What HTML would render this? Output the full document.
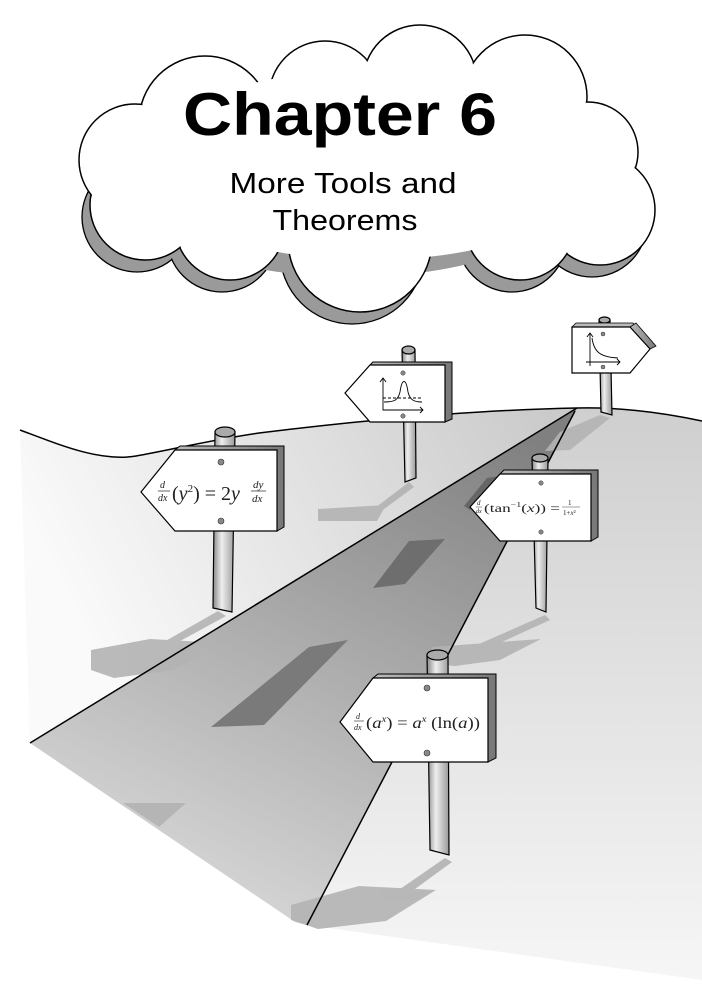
<!DOCTYPE html>
<html><head><meta charset="utf-8"><style>
html,body{margin:0;padding:0;background:#fff;}
svg{display:block;}
.m{font-family:"Liberation Serif",serif;fill:#222;}
</style></head><body>
<svg width="702" height="990" viewBox="0 0 702 990" xmlns="http://www.w3.org/2000/svg">
<defs>
<linearGradient id="gR" x1="0" y1="0" x2="0" y2="1"><stop offset="0" stop-color="#cfcfcf"/><stop offset="1" stop-color="#f6f6f6"/></linearGradient>
<linearGradient id="gL" x1="1" y1="0" x2="0" y2="0.3"><stop offset="0" stop-color="#c8c8c8"/><stop offset="1" stop-color="#fafafa"/></linearGradient>
<linearGradient id="gRoad" x1="0.8" y1="0" x2="0.3" y2="1"><stop offset="0" stop-color="#808080"/><stop offset="1" stop-color="#dadada"/></linearGradient>
<linearGradient id="gPost" x1="0" y1="0" x2="1" y2="0"><stop offset="0" stop-color="#888"/><stop offset="0.4" stop-color="#eee"/><stop offset="1" stop-color="#999"/></linearGradient>
<linearGradient id="gSide" x1="0" y1="0" x2="1" y2="0"><stop offset="0" stop-color="#bbb"/><stop offset="1" stop-color="#777"/></linearGradient>
</defs>

<path d="M577,408 C620,407 660,412 702,421 L702,980 L307,925 Z" fill="url(#gR)"/>
<path d="M20,430 C60,445 100,462 136,456 C170,450 210,440 259,433 C380,418 480,410 577,408 L30,743 Z" fill="url(#gL)"/>
<path d="M577,408 L30,743 L295,922 L307,925 Z" fill="url(#gRoad)"/>

<polygon points="373,588 409,541 445,539 405,584" fill="#6e6e6e"/>
<polygon points="211,727 309,647 348,640 264,725" fill="#7a7a7a"/>
<polygon points="464,506 487,478 500,476 470,510" fill="#666"/>

<g fill="#b3b3b3" opacity="0.9">
<polygon points="218,611 226,616 160,652 155,647"/>
<polygon points="91,650 150,639 223,643 173,670 114,678 91,670"/>
<polygon points="409,482 414,487 380,512 375,508"/>
<polygon points="318,509 386,505 377,521 318,521"/>
<polygon points="545,615 550,620 480,652 470,648"/>
<polygon points="432,647 541,639 500,660 455,666 432,664"/>
<polygon points="445,858 452,862 400,900 390,896"/>
<polygon points="291,905 359,886 436,890 386,921 318,929 291,920"/>
<polygon points="123,803 186,803 159,827"/>
<polygon points="600,415 610,418 570,450 545,451 560,432"/>
</g>

<path d="M20,430 C60,445 100,462 136,456 C170,450 210,440 259,433 C380,418 480,410 577,408 C620,407 660,412 702,421" fill="none" stroke="#000" stroke-width="1.5"/>
<line x1="577" y1="408" x2="30" y2="743" stroke="#000" stroke-width="1.5"/>
<line x1="575" y1="411" x2="307" y2="925" stroke="#000" stroke-width="1.5"/>

<g stroke="#000" stroke-width="1.2" fill="url(#gPost)">
<path d="M215,432 L235,432 L232,612 L213,608 Z"/><ellipse cx="225" cy="432" rx="10" ry="5" fill="#aaa"/>
<path d="M402,350 L415,350 L416,478 L405,482 Z"/><ellipse cx="408.5" cy="350" rx="6.5" ry="4" fill="#aaa"/>
<path d="M599,320 L610,320 L612,415 L601,412 Z"/><ellipse cx="604.5" cy="320" rx="5.5" ry="3" fill="#aaa"/>
<path d="M532,458 L548,458 L546,612 L536,608 Z"/><ellipse cx="540" cy="458" rx="8" ry="4" fill="#aaa"/>
<path d="M427,655 L448,655 L449,855 L430,850 Z"/><ellipse cx="437.5" cy="655" rx="10.5" ry="5" fill="#aaa"/>
</g>

<polygon points="175,450 180,446 284,446 284,527 277,531 277,450" fill="url(#gSide)" stroke="#000" stroke-width="1"/>
<polygon points="141,492 175,450 277,450 277,531 175,531" fill="#fff" stroke="#000" stroke-width="1.2"/>
<circle cx="221" cy="462" r="3" fill="#888" stroke="#333" stroke-width="0.6"/><circle cx="221" cy="521" r="3" fill="#888" stroke="#333" stroke-width="0.6"/>
<text class="m" x="160" y="488" font-size="10" font-style="italic">d</text>
<line x1="158" y1="491" x2="170" y2="491" stroke="#222" stroke-width="0.7"/>
<text class="m" x="158" y="501" font-size="10" font-style="italic">dx</text>
<text class="m" x="172" y="500" font-size="20">(<tspan font-style="italic">y</tspan><tspan font-size="11" dy="-8">2</tspan><tspan dy="8">) = 2</tspan><tspan font-style="italic">y</tspan></text>
<text class="m" x="253" y="488" font-size="11" font-style="italic">dy</text>
<line x1="251" y1="491" x2="266" y2="491" stroke="#222" stroke-width="0.7"/>
<text class="m" x="252" y="502" font-size="11" font-style="italic">dx</text>

<polygon points="370,365 373,362 452,362 452,419 445,422 445,365" fill="url(#gSide)" stroke="#000" stroke-width="1"/>
<polygon points="345,393 370,365 445,365 445,422 370,422" fill="#fff" stroke="#000" stroke-width="1.2"/>
<circle cx="403" cy="373" r="2.2" fill="#888" stroke="#333" stroke-width="0.5"/><circle cx="403" cy="416" r="2.2" fill="#888" stroke="#333" stroke-width="0.5"/>
<g fill="none" stroke="#000" stroke-width="0.9">
<path d="M383,378 L383,410 L423,410"/><path d="M380,382 L383,378 L386,382"/><path d="M420,407 L423,410 L420,413"/>
<path d="M384,402 C395,402 398,400 400,392 C402,378 406,378 408,392 C410,400 414,402 422,402"/>
<line x1="383" y1="398" x2="423" y2="398" stroke-dasharray="3,2"/>
</g>

<polygon points="572,327 576,323 633,323 636,327 630,327" fill="#bbb" stroke="#000" stroke-width="0.8"/>
<polygon points="630,327 636,323 656,346 650,349" fill="url(#gSide)" stroke="#000" stroke-width="0.8"/>
<polygon points="572,327 630,327 650,349 630,373 572,373" fill="#fff" stroke="#000" stroke-width="1.2"/>
<circle cx="603" cy="334" r="2" fill="#888" stroke="#333" stroke-width="0.5"/><circle cx="603" cy="367" r="2" fill="#888" stroke="#333" stroke-width="0.5"/>
<g fill="none" stroke="#000" stroke-width="0.9">
<path d="M590,333 L590,366"/><path d="M586,362 L620,362"/><path d="M617,359 L620,362 L617,365"/><path d="M587,337 L590,333 L593,337"/>
<path d="M592,338 C594,352 600,357 618,358"/>
</g>

<polygon points="500,474 504,470 598,470 598,537 591,541 591,474" fill="url(#gSide)" stroke="#000" stroke-width="1"/>
<polygon points="470,507 500,474 591,474 591,541 500,541" fill="#fff" stroke="#000" stroke-width="1.2"/>
<circle cx="541" cy="483" r="2.2" fill="#888" stroke="#333" stroke-width="0.5"/><circle cx="541" cy="532" r="2.2" fill="#888" stroke="#333" stroke-width="0.5"/>
<text class="m" x="477" y="505" font-size="7" font-style="italic" fill="#444">d</text>
<line x1="476" y1="507" x2="482" y2="507" stroke="#444" stroke-width="0.5"/>
<text class="m" x="476" y="513" font-size="6" font-style="italic" fill="#444">dx</text>
<text class="m" x="484" y="512" font-size="12" fill="#444" textLength="76" lengthAdjust="spacingAndGlyphs">(tan<tspan font-size="7" dy="-5">−1</tspan><tspan dy="5">(</tspan><tspan font-style="italic">x</tspan>)) =</text>
<text class="m" x="568" y="505" font-size="7" fill="#444">1</text>
<line x1="562" y1="507" x2="580" y2="507" stroke="#444" stroke-width="0.6"/>
<text class="m" x="563" y="515" font-size="7" fill="#444">1+<tspan font-style="italic">x</tspan>²</text>

<polygon points="373,678 378,674 496,674 496,758 488,762 488,678" fill="url(#gSide)" stroke="#000" stroke-width="1"/>
<polygon points="340,722 373,678 488,678 488,762 373,762" fill="#fff" stroke="#000" stroke-width="1.2"/>
<circle cx="427" cy="688" r="3" fill="#888" stroke="#333" stroke-width="0.6"/><circle cx="427" cy="753" r="3" fill="#888" stroke="#333" stroke-width="0.6"/>
<text class="m" x="356" y="719" font-size="8" font-style="italic">d</text>
<line x1="354" y1="721" x2="364" y2="721" stroke="#222" stroke-width="0.6"/>
<text class="m" x="354" y="730" font-size="8" font-style="italic">dx</text>
<text class="m" x="366" y="728" font-size="16" textLength="114" lengthAdjust="spacingAndGlyphs">(<tspan font-style="italic">a</tspan><tspan font-size="9" dy="-6" font-style="italic">x</tspan><tspan dy="6">) = </tspan><tspan font-style="italic">a</tspan><tspan font-size="9" dy="-6" font-style="italic">x</tspan><tspan dy="6"> (ln(</tspan><tspan font-style="italic">a</tspan>))</text>

<g fill="#9a9a9a" stroke="#000" stroke-width="1.3" transform="translate(-8,12)">
<circle cx="145" cy="205" r="55"/><circle cx="230" cy="225" r="55"/><circle cx="360" cy="240" r="72"/><circle cx="520" cy="225" r="55"/><circle cx="600" cy="210" r="55"/>
</g>
<g fill="#9a9a9a" transform="translate(-8,12)">
<circle cx="145" cy="205" r="54"/><circle cx="230" cy="225" r="54"/><circle cx="360" cy="240" r="71"/><circle cx="520" cy="225" r="54"/><circle cx="600" cy="210" r="54"/>
<ellipse cx="360" cy="170" rx="230" ry="95"/>
</g>
<g fill="#fff" stroke="#000" stroke-width="1.5">
<circle cx="205" cy="122" r="66"/><circle cx="325" cy="97" r="56"/><circle cx="420" cy="82" r="57"/><circle cx="525" cy="97" r="62"/><circle cx="588" cy="152" r="50"/><circle cx="600" cy="210" r="55"/><circle cx="520" cy="225" r="55"/><circle cx="360" cy="240" r="72"/><circle cx="230" cy="225" r="55"/><circle cx="145" cy="205" r="55"/><circle cx="135" cy="160" r="56"/>
</g>
<g fill="#fff">
<circle cx="205" cy="122" r="65"/><circle cx="325" cy="97" r="55"/><circle cx="420" cy="82" r="56"/><circle cx="525" cy="97" r="61"/><circle cx="588" cy="152" r="49"/><circle cx="600" cy="210" r="54"/><circle cx="520" cy="225" r="54"/><circle cx="360" cy="240" r="71"/><circle cx="230" cy="225" r="54"/><circle cx="145" cy="205" r="54"/><circle cx="135" cy="160" r="55"/>
<ellipse cx="370" cy="165" rx="230" ry="95"/>
</g>
<text x="340" y="135" text-anchor="middle" font-family="Liberation Sans, sans-serif" font-weight="bold" font-size="60" textLength="314" lengthAdjust="spacingAndGlyphs">Chapter 6</text>
<text x="343" y="193" text-anchor="middle" font-family="Liberation Sans, sans-serif" font-size="29" textLength="227" lengthAdjust="spacingAndGlyphs">More Tools and</text>
<text x="345" y="230" text-anchor="middle" font-family="Liberation Sans, sans-serif" font-size="29" textLength="145" lengthAdjust="spacingAndGlyphs">Theorems</text>
</svg>
</body></html>
